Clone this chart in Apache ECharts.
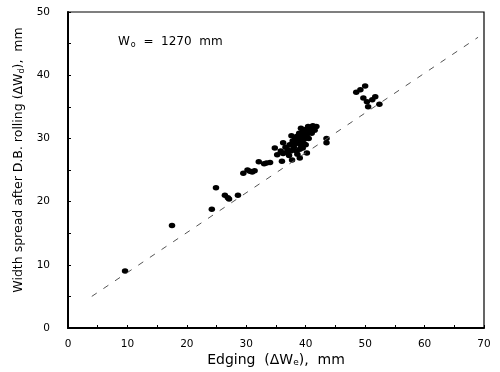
<!DOCTYPE html>
<html><head><meta charset="utf-8">
<script src="https://cdn.jsdelivr.net/npm/echarts@6/dist/echarts.min.js"></script>
<style>html,body{margin:0;padding:0;background:#fff}#c{width:500px;height:372px}</style>
</head><body><div id="c"></div>
<script>
// Data
var xTicks = [0, 10, 20, 30, 40, 50, 60, 70];
var yTicks = [0, 10, 20, 30, 40, 50];
var lowPoints = [
  [9.6, 9.0], [17.5, 16.2], [24.2, 18.8], [24.9, 22.2], [26.4, 21.0], [26.9, 20.6],
  [27.1, 20.4], [28.6, 21.0], [29.5, 24.5], [30.2, 25.0], [30.6, 24.8], [31.0, 24.7],
  [31.4, 24.9], [32.1, 26.3], [33.4, 26.1], [34.0, 26.2], [33.0, 26.0]
];
var clusterPoints = [
  [35.2, 27.4], [34.8, 28.5], [36.0, 26.4], [36.2, 27.6], [36.8, 27.8], [36.2, 29.3],
  [36.6, 28.6], [37.0, 28.2], [37.3, 29.0], [37.5, 28.0], [37.7, 26.6], [37.8, 29.6],
  [38.0, 28.6], [38.2, 29.9], [38.4, 28.0], [38.5, 30.3], [38.7, 29.4], [38.9, 30.8],
  [39.0, 28.3], [39.0, 26.9], [39.2, 29.8], [39.4, 30.5], [39.5, 31.1], [39.7, 29.2],
  [39.9, 30.0], [40.0, 31.4], [40.2, 27.7], [40.2, 30.6], [40.4, 31.9], [40.5, 30.0],
  [40.8, 31.5], [41.2, 32.0], [41.5, 31.3], [41.8, 31.9], [41.0, 30.8], [37.2, 27.3],
  [38.6, 27.5], [39.5, 28.5], [35.8, 28.0], [37.6, 30.4], [39.2, 31.6], [40.0, 29.0],
  [38.3, 29.2], [38.8, 30.0], [39.1, 29.0], [39.6, 30.2], [40.3, 31.1], [38.0, 29.2],
  [43.5, 30.0], [43.5, 29.3]
];
var highPoints = [
  [48.5, 37.3], [49.2, 37.7], [50.0, 38.3], [49.7, 36.4], [50.3, 35.8], [50.5, 35.0],
  [51.2, 36.1], [51.7, 36.6], [52.4, 35.4]
];
var fitLine = [[4, 5], [69, 46]];

var chart = echarts.init(document.getElementById('c'));
var font = 'DejaVu Sans';
var axisCommon = {
  type: 'value',
  interval: 5,
  axisLine: {show: true, lineStyle: {color: '#000', width: 2}},
  axisTick: {show: true, inside: true, length: 3, lineStyle: {color: '#000', width: 1}},
  splitLine: {show: false},
  axisLabel: {color: '#000', fontFamily: font, fontSize: 10.5}
};
chart.setOption({
  animation: false,
  backgroundColor: '#fff',
  grid: {left: 68, right: 16, top: 12, bottom: 44, show: true, borderColor: '#000', borderWidth: 1.2},
  xAxis: Object.assign({}, axisCommon, {
    min: 0, max: 70,
    axisLabel: Object.assign({}, axisCommon.axisLabel, {
      margin: 11,
      formatter: function (v) { return xTicks.indexOf(v) >= 0 ? String(v) : ''; }
    })
  }),
  yAxis: Object.assign({}, axisCommon, {
    min: 0, max: 50,
    axisLabel: Object.assign({}, axisCommon.axisLabel, {
      margin: 18,
      formatter: function (v) { return yTicks.indexOf(v) >= 0 ? String(v) : ''; }
    })
  }),
  graphic: [
    {
      type: 'text', left: 118, top: 36,
      style: {
        text: '{a|W}{s|o}{a|  =  1270  mm}',
        rich: {
          a: {fontFamily: font, fontSize: 12, fill: '#000'},
          s: {fontFamily: font, fontSize: 8, fill: '#000', padding: [6, 0, 0, 1]}
        }
      }
    },
    {
      type: 'text', x: 19, y: 160, rotation: Math.PI / 2,
      style: {
        text: '{a|Width spread after D.B. rolling (ΔW}{s|d}{a|),  mm}',
        align: 'center', verticalAlign: 'middle',
        rich: {
          a: {fontFamily: font, fontSize: 12.5, fill: '#000'},
          s: {fontFamily: font, fontSize: 8, fill: '#000', padding: [6, 0, 0, 0]}
        }
      }
    },
    {
      type: 'text', x: 276, y: 360,
      style: {
        text: '{a|Edging  (ΔW}{s|e}{a|),  mm}',
        align: 'center', verticalAlign: 'middle',
        rich: {
          a: {fontFamily: font, fontSize: 14, fill: '#000'},
          s: {fontFamily: font, fontSize: 9, fill: '#000', padding: [6, 0, 0, 0]}
        }
      }
    }
  ],
  series: [
    {
      type: 'line', data: fitLine, symbol: 'none', silent: true,
      lineStyle: {color: '#555', width: 1, type: [6, 8]}
    },
    {
      type: 'scatter', data: lowPoints.concat(clusterPoints, highPoints),
      symbol: 'circle', symbolSize: [6.5, 5.5],
      itemStyle: {color: '#000', opacity: 1}
    }
  ]
});
</script></body></html>
